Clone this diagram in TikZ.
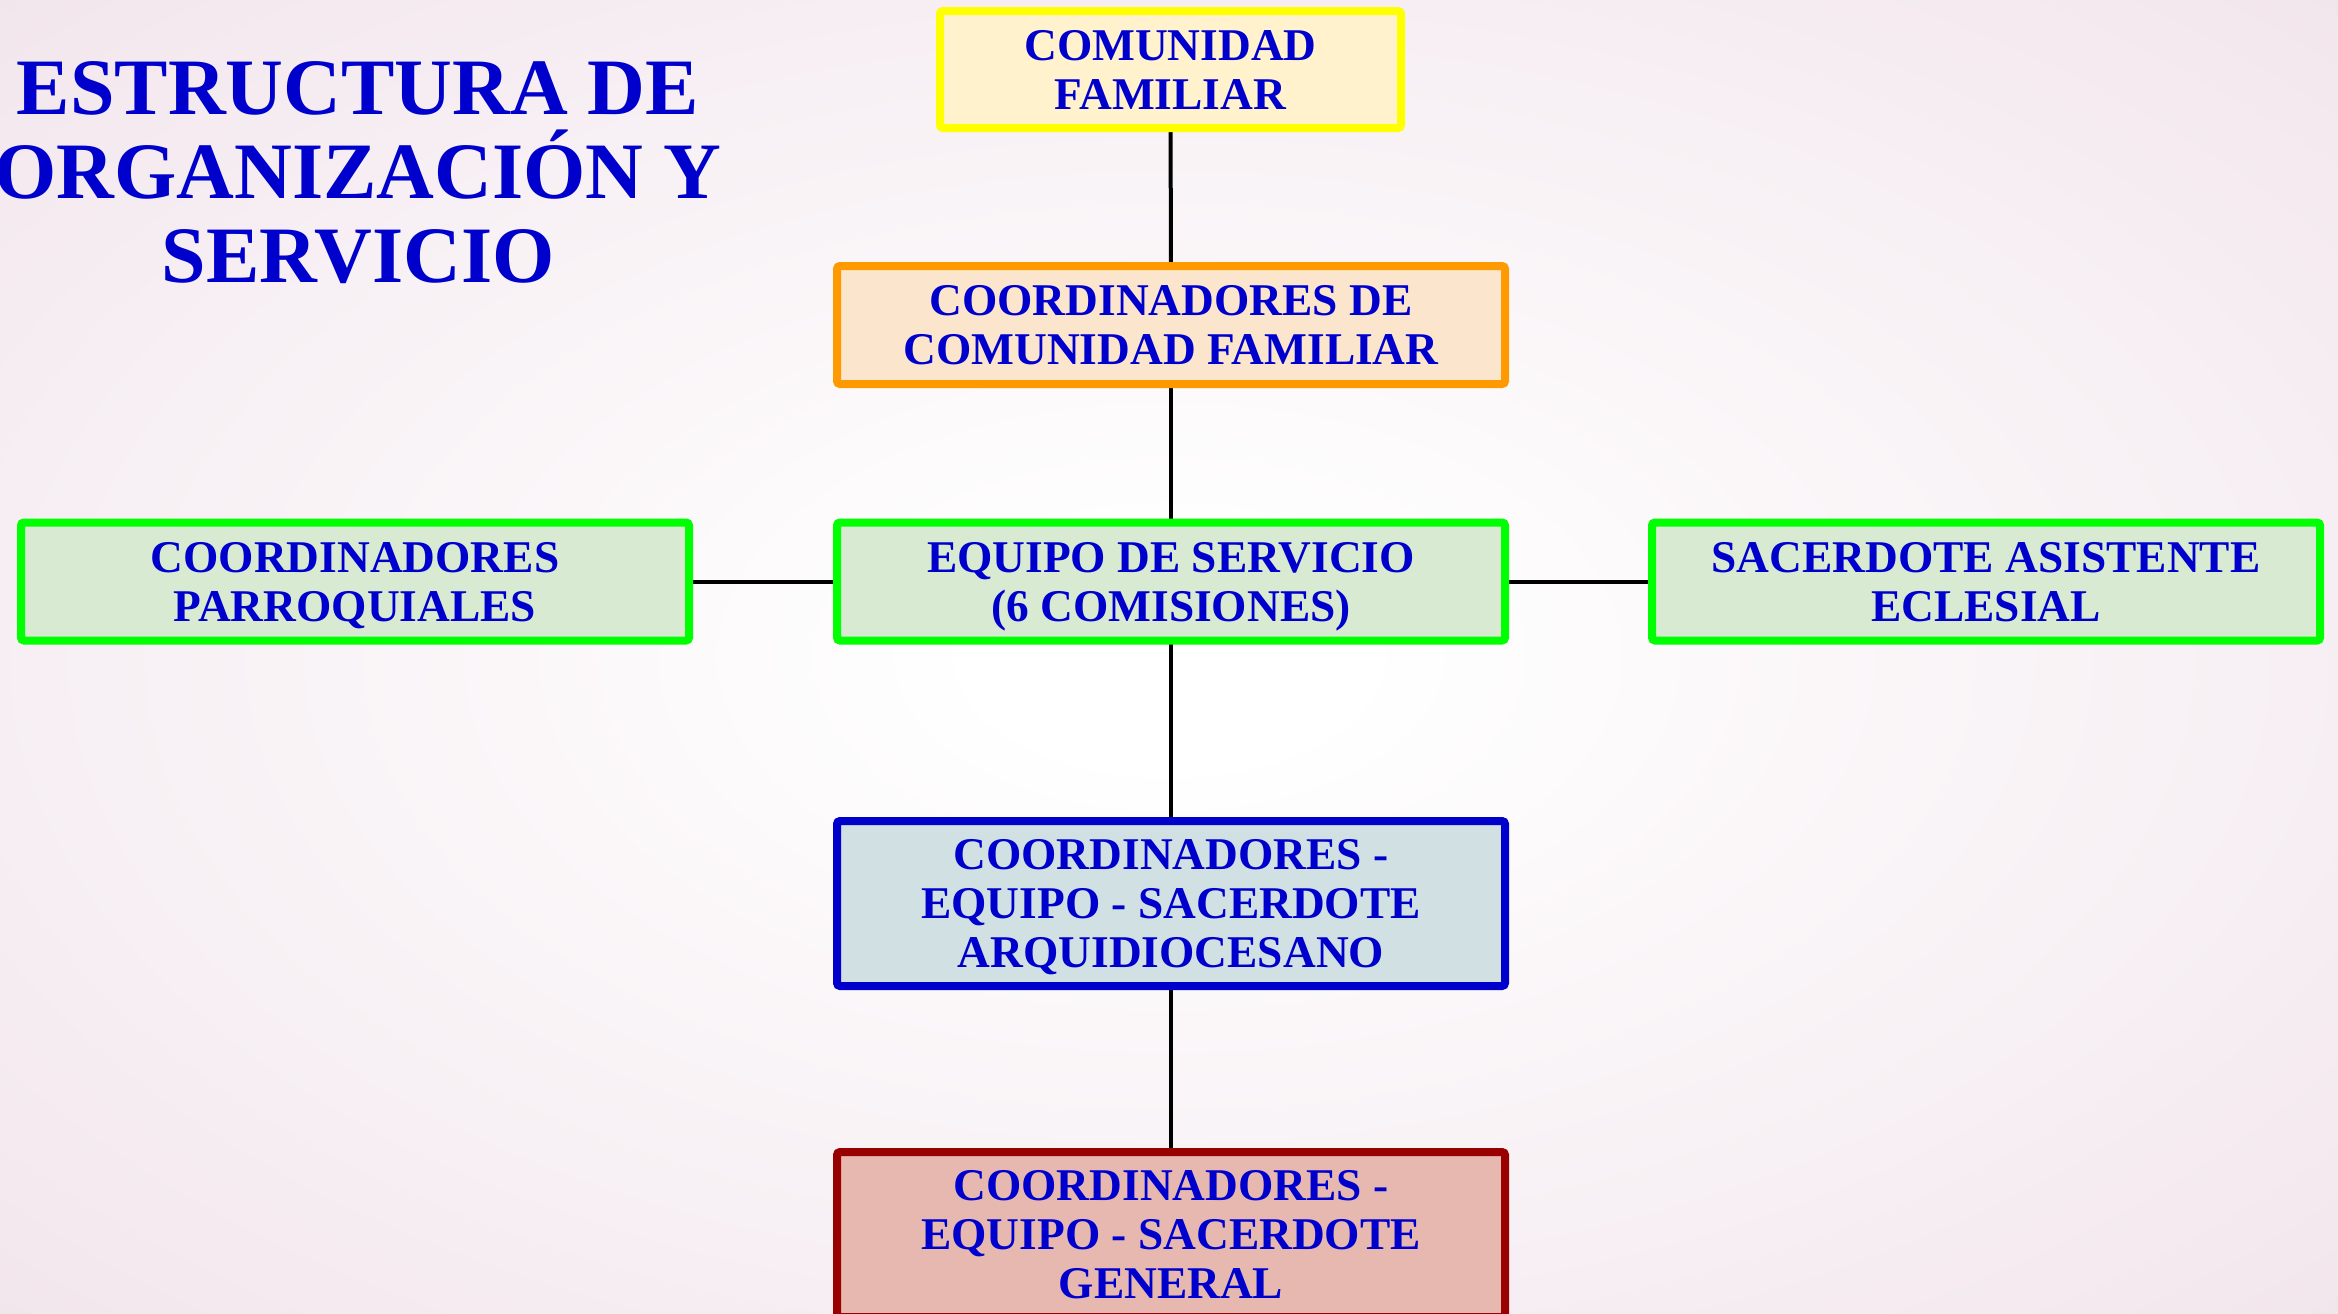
\documentclass[tikz,border=0pt]{standalone}
\usepackage{fontspec}
\setmainfont{Liberation Serif}
\definecolor{bgpink}{RGB}{231,209,221}
\definecolor{txtblue}{RGB}{0,0,204}
\definecolor{yelfill}{HTML}{FFF2CC}
\definecolor{yeldraw}{HTML}{FFFF00}
\definecolor{orafill}{HTML}{FCE5CD}
\definecolor{oradraw}{HTML}{FF9900}
\definecolor{grnfill}{HTML}{D9EAD3}
\definecolor{grndraw}{HTML}{00FF00}
\definecolor{blufill}{HTML}{D0E0E3}
\definecolor{bludraw}{HTML}{0000CC}
\definecolor{redfill}{HTML}{E6B8AF}
\definecolor{reddraw}{HTML}{990000}
\pgfdeclareradialshading{bgshade}{\pgfpoint{0bp}{0bp}}{color(0bp)=(white); color(4bp)=(white); color(62bp)=(bgpink)}
\pgfdeclarelayer{bglayer}
\pgfdeclarelayer{connlayer}
\pgfsetlayers{bglayer,connlayer,main}
\tikzset{
  orgbox/.style={draw, line width=4pt, rounded corners=1.5pt, text=txtblue,
    font=\fontsize{22.7}{24.5}\selectfont\bfseries, align=center, inner sep=0pt,
    text height=39.5pt, text depth=0pt,
    minimum width=334pt, minimum height=59pt},
  threeline/.style={minimum height=82.5pt, text height=64pt},
  conn/.style={draw=black, line width=2pt},
  titletext/.style={text=txtblue, font=\fontsize{40}{42}\selectfont\bfseries,
    align=center, inner sep=0pt, text depth=0pt, anchor=south}
}
\begin{document}
\begin{tikzpicture}[x=0.5pt,y=-0.5pt]
\useasboundingbox (0,0) rectangle (2338,1313);
\begin{pgfonlayer}{bglayer}
\shade[shading=bgshade] (0,0) rectangle (2338,1313);
\end{pgfonlayer}
\node[titletext] (title) at (358,283) {ESTRUCTURA DE\\ORGANIZACIÓN Y\\SERVICIO};
\node[orgbox, fill=yelfill, draw=yeldraw, minimum width=230.5pt, minimum height=58.5pt] (cf) at (1170.5,69.5) {COMUNIDAD\\FAMILIAR};
\node[orgbox, fill=orafill, draw=oradraw] (ccf) at (1171,325) {COORDINADORES DE\\COMUNIDAD FAMILIAR};
\node[orgbox, fill=grnfill, draw=grndraw] (es) at (1171,581.5) {EQUIPO DE SERVICIO\\(6 COMISIONES)};
\node[orgbox, fill=grnfill, draw=grndraw] (cp) at (355,581.5) {COORDINADORES\\PARROQUIALES};
\node[orgbox, fill=grnfill, draw=grndraw] (sa) at (1986,581.5) {SACERDOTE ASISTENTE\\ECLESIAL};
\node[orgbox, threeline, fill=blufill, draw=bludraw] (arq) at (1171,903.5) {COORDINADORES -\\EQUIPO - SACERDOTE\\ARQUIDIOCESANO};
\node[orgbox, threeline, fill=redfill, draw=reddraw] (gen) at (1171,1234.5) {COORDINADORES -\\EQUIPO - SACERDOTE\\GENERAL};
\begin{pgfonlayer}{connlayer}
\draw[conn] (cf.center) -- (ccf.center);
\draw[conn] (ccf.center) -- (es.center);
\draw[conn] (es.center) -- (arq.center);
\draw[conn] (arq.center) -- (gen.center);
\draw[conn] (cp.center) -- (es.center);
\draw[conn] (es.center) -- (sa.center);
\end{pgfonlayer}
\end{tikzpicture}
\end{document}
